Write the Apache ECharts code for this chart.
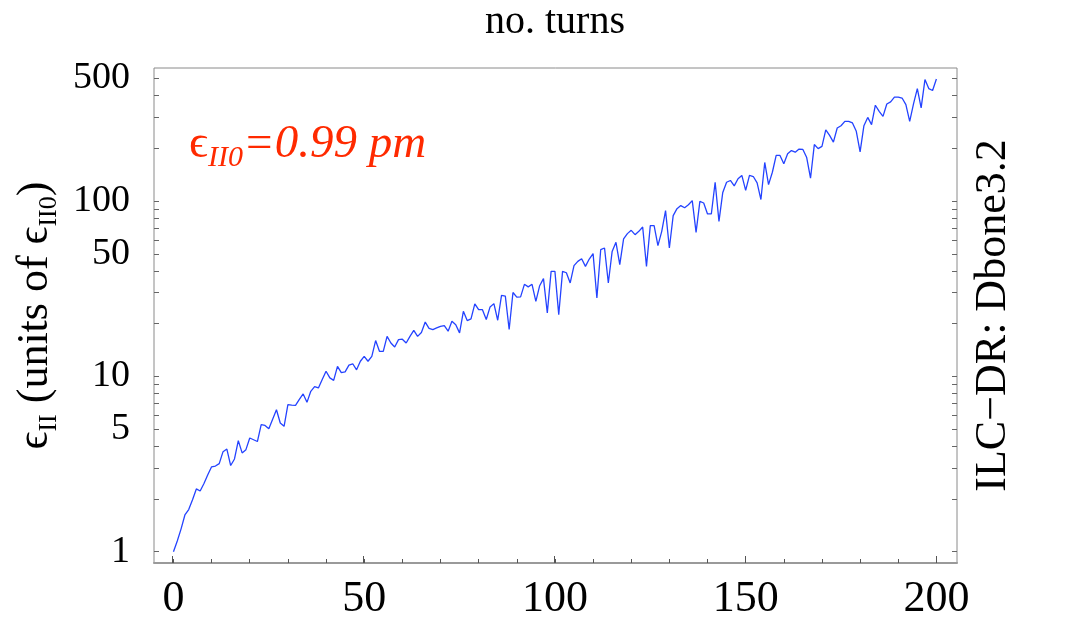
<!DOCTYPE html>
<html><head><meta charset="utf-8">
<script src="https://cdn.jsdelivr.net/npm/echarts@6/dist/echarts.min.js"></script>
<style>html,body{margin:0;padding:0;background:#fff}#c{width:1083px;height:643px}</style>
</head><body><div id="c"></div>
<script>
// emittance (units of eps_II0) at turn 0..200
const emittance = [
  1.0, 1.15, 1.35, 1.62, 1.74, 1.98, 2.28, 2.22, 2.45, 2.75,
  3.05, 3.08, 3.18, 3.72, 3.85, 3.10, 3.38, 4.30, 3.66, 3.82,
  4.45, 4.35, 4.25, 5.30, 5.25, 5.03, 5.70, 6.45, 5.42, 5.19,
  6.90, 6.85, 6.83, 7.40, 7.94, 7.11, 8.22, 8.74, 8.59, 9.60,
  10.7, 9.80, 9.49, 11.4, 10.5, 10.6, 11.6, 11.8, 10.9, 12.2,
  13.0, 12.2, 13.0, 16.0, 13.9, 13.9, 16.9, 15.5, 14.7, 16.2,
  16.3, 15.5, 16.9, 18.3, 16.9, 17.8, 20.4, 18.8, 18.5, 18.9,
  19.3, 19.5, 18.1, 20.6, 19.7, 17.7, 23.5, 20.8, 21.3, 25.9,
  24.0, 24.0, 21.1, 24.9, 26.0, 20.9, 29.0, 28.7, 18.5, 30.1,
  28.3, 28.4, 33.5, 32.4, 33.5, 26.8, 32.9, 36.1, 23.0, 39.7,
  39.7, 22.5, 39.7, 39.0, 34.1, 42.8, 45.3, 46.9, 42.4, 46.7,
  50.1, 28.0, 52.8, 54.0, 34.1, 51.6, 58.2, 43.4, 60.8, 65.2,
  68.1, 64.3, 67.2, 71.1, 42.4, 72.4, 72.4, 55.7, 67.2, 88.2,
  54.0, 82.6, 90.5, 94.2, 91.6, 95.3, 100.5, 66.3, 99.5, 97.5,
  84.4, 84.4, 128, 76.6, 112, 128, 131, 122, 134, 140,
  115, 140, 138, 127, 102, 166, 124, 146, 182, 182,
  163, 186, 194, 190, 198, 197, 177, 135, 210, 199,
  205, 255, 237, 217, 261, 269, 285, 285, 279, 250,
  191, 269, 300, 273, 352, 325, 304, 358, 368, 392,
  392, 387, 355, 285, 358, 438, 340, 493, 438, 427,
  497
];
const xTickValues = [0,10,20,30,40,50,60,70,80,90,100,110,120,130,140,150,160,170,180,190,200];
const xLabelValues = [0,50,100,150,200];
const yTickValues = [1,2,3,4,5,6,7,8,9,10,20,30,40,50,60,70,80,90,100,200,300,400,500];
const yLabelValues = [1,5,10,50,100,500];
const topTitle = 'no. turns';
const rightTitle = 'ILC\u2212DR: Dbone3.2';
const annotation = '{e|\u03f5}{s|II0}{m|=0.99 pm}';
const yTitle = '{e|\u03f5}{s|II} (units of \u03f5{s|II0})';

const SERIF = '"Liberation Serif", "Times New Roman", serif';
const chart = echarts.init(document.getElementById('c'), null, {renderer: 'canvas'});
const gridPos = {left: 153, top: 68, right: 126, bottom: 80};
const xr = {min: -5.1, max: 205.4};
const yr = {min: 0.862, max: 574};

chart.setOption({
  animation: false,
  backgroundColor: '#fff',
  grid: [
    Object.assign({show: true, borderColor: '#8a8a8a', borderWidth: 1, containLabel: false}, gridPos),
    Object.assign({show: false, containLabel: false}, gridPos)
  ],
  xAxis: [
    {
      type: 'value', gridIndex: 0, position: 'bottom', min: xr.min, max: xr.max,
      axisLine: {show: true, onZero: false, lineStyle: {color: '#9a9a9a', width: 2}},
      axisTick: {show: true, inside: true, length: 4, customValues: xTickValues, lineStyle: {color: '#555', width: 1}},
      axisLabel: {show: true, customValues: xLabelValues, fontFamily: SERIF, fontSize: 44, color: '#000', margin: 14},
      splitLine: {show: false}
    },
    {
      type: 'value', gridIndex: 1, position: 'bottom', min: xr.min, max: xr.max,
      axisLine: {show: false, onZero: false},
      axisTick: {show: true, inside: true, length: 7, customValues: xLabelValues, lineStyle: {color: '#555', width: 1}},
      axisLabel: {show: false},
      splitLine: {show: false}
    }
  ],
  yAxis: [
    {
      type: 'log', logBase: 10, gridIndex: 0, position: 'left', min: yr.min, max: yr.max,
      axisLine: {show: false, onZero: false},
      axisTick: {show: true, inside: true, length: 5, customValues: yTickValues, lineStyle: {color: '#666', width: 1}},
      axisLabel: {show: true, customValues: yLabelValues, fontFamily: SERIF, fontSize: 38, color: '#000', margin: 24},
      splitLine: {show: false},
      name: yTitle, nameLocation: 'middle', nameRotate: 90, nameGap: 92,
      nameTextStyle: {
        fontFamily: SERIF, fontSize: 44, color: '#000', lineHeight: 54,
        rich: {
          e: {fontFamily: SERIF, fontSize: 44, lineHeight: 54},
          s: {fontFamily: SERIF, fontSize: 26, lineHeight: 26, verticalAlign: 'bottom'}
        }
      }
    },
    {
      type: 'log', logBase: 10, gridIndex: 0, position: 'right', min: yr.min, max: yr.max,
      axisLine: {show: false, onZero: false},
      axisTick: {show: true, inside: true, length: 5, customValues: yTickValues, lineStyle: {color: '#666', width: 1}},
      axisLabel: {show: false},
      splitLine: {show: false},
      name: rightTitle, nameLocation: 'middle', nameRotate: 90, nameGap: 14,
      nameTextStyle: {fontFamily: SERIF, fontSize: 44, color: '#000'}
    },
    {
      type: 'log', gridIndex: 1, min: yr.min, max: yr.max, show: false,
      axisLine: {onZero: false}
    }
  ],
  graphic: [
    {
      type: 'text', x: 555, y: 2,
      style: {text: topTitle, font: '40px ' + SERIF, fill: '#000', align: 'center', verticalAlign: 'top'}
    },
    {
      type: 'text', x: 189, y: 117,
      style: {
        text: annotation, fill: '#ff2a00', align: 'left', verticalAlign: 'top',
        font: 'italic 47px ' + SERIF,
        rich: {
          e: {fontFamily: SERIF, fontSize: 47, fill: '#ff2a00', lineHeight: 56},
          s: {fontFamily: SERIF, fontStyle: 'italic', fontSize: 30, fill: '#ff2a00', lineHeight: 30, verticalAlign: 'bottom'},
          m: {fontFamily: SERIF, fontStyle: 'italic', fontSize: 47, fill: '#ff2a00', lineHeight: 56}
        }
      }
    }
  ],
  series: [
    {
      type: 'line', xAxisIndex: 0, yAxisIndex: 0,
      data: emittance.map((v, i) => [i, v]),
      showSymbol: false, symbol: 'none',
      lineStyle: {color: '#2443ff', width: 1.3},
      silent: true
    }
  ]
});
</script>
</body></html>
